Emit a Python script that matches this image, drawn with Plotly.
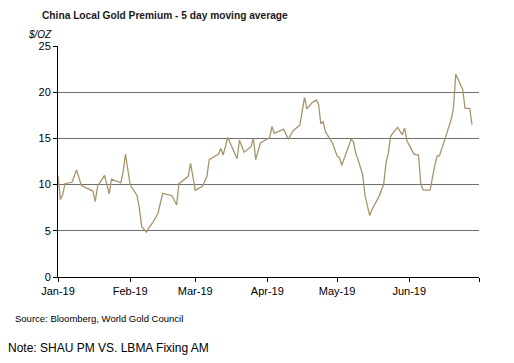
import plotly.graph_objects as go

dates = ["2019-01-01","2019-01-02","2019-01-03","2019-01-04","2019-01-07","2019-01-09","2019-01-11",
"2019-01-16","2019-01-17","2019-01-18","2019-01-21","2019-01-23","2019-01-24","2019-01-28","2019-01-29",
"2019-01-30","2019-02-01","2019-02-04","2019-02-05","2019-02-06","2019-02-08","2019-02-09","2019-02-11",
"2019-02-13","2019-02-15","2019-02-19","2019-02-21","2019-02-22","2019-02-26","2019-02-27","2019-03-01",
"2019-03-04","2019-03-06","2019-03-07","2019-03-11","2019-03-12","2019-03-13","2019-03-15","2019-03-19",
"2019-03-20","2019-03-22","2019-03-25","2019-03-26","2019-03-27","2019-03-29","2019-04-02","2019-04-03",
"2019-04-04","2019-04-08","2019-04-10","2019-04-12","2019-04-15","2019-04-17","2019-04-18","2019-04-20",
"2019-04-22","2019-04-23","2019-04-24","2019-04-25","2019-04-26","2019-04-29","2019-05-01","2019-05-02",
"2019-05-03","2019-05-07","2019-05-08","2019-05-09","2019-05-10","2019-05-12","2019-05-13","2019-05-15",
"2019-05-16","2019-05-19","2019-05-21","2019-05-22","2019-05-23","2019-05-24","2019-05-27","2019-05-29",
"2019-05-30","2019-05-31","2019-06-03","2019-06-05","2019-06-06","2019-06-07","2019-06-10","2019-06-12",
"2019-06-13","2019-06-14","2019-06-17","2019-06-19","2019-06-20","2019-06-21","2019-06-24","2019-06-25",
"2019-06-27","2019-06-28"]
premium = [10.9,8.4,8.9,10.1,10.25,11.6,9.9,
9.3,8.15,9.8,11.0,9.0,10.6,10.2,11.4,
13.3,10.0,8.8,7.4,5.45,4.85,5.3,6.0,
6.9,9.05,8.8,7.8,10.1,10.9,12.3,9.4,
9.8,10.85,12.7,13.3,13.9,13.2,15.1,12.8,
14.8,13.5,14.1,15.0,12.7,14.5,15.1,16.3,
15.55,16.0,14.9,15.8,16.45,19.45,18.2,18.8,
19.15,18.7,16.6,16.8,15.7,14.5,13.1,12.95,
12.1,14.9,14.65,13.4,12.7,11.05,8.8,6.65,
7.3,8.7,10.0,12.3,13.4,15.25,16.2,15.4,
16.1,14.75,13.3,13.2,10.05,9.4,9.4,12.1,
13.1,13.1,15.4,17.0,18.25,21.95,20.3,18.25,
18.25,16.5]

tick_dates = ["2019-01-01","2019-02-01","2019-03-01","2019-04-01","2019-05-01","2019-06-01","2019-07-01"]
tick_labels = ["Jan-19","Feb-19","Mar-19","Apr-19","May-19","Jun-19",""]
y_ticks = [0, 5, 10, 15, 20, 25]

# page body has an 8px margin; size the figure so the plot lands where the reference has it
OFF = 8
W, H = 514 - OFF, 363 - OFF
L, R, T, B = 50, 35, 38, 86
PW, PH = W - L - R, H - T - B

def px(xp, yp):
    return (xp - OFF - L) / PW, (H - B - (yp - OFF)) / PH

fig = go.Figure()
fig.add_trace(go.Scatter(x=dates, y=premium, mode="lines",
                         line=dict(color="#A8946C", width=1.3), showlegend=False))

font = "Liberation Sans, Arial, sans-serif"

def ann(text, xp, yp, size, color="black"):
    x, y = px(xp, yp)
    return dict(text=text, x=x, y=y, xref="paper", yref="paper", showarrow=False,
                xanchor="left", yanchor="middle", font=dict(size=size, family=font, color=color))

fig.update_layout(
    width=W, height=H,
    margin=dict(l=L, r=R, t=T, b=B),
    paper_bgcolor="white", plot_bgcolor="white",
    font=dict(family=font, size=11, color="black"),
    xaxis=dict(range=["2019-01-01","2019-07-01"], tickmode="array", tickvals=tick_dates,
               ticktext=tick_labels, showgrid=False, showline=True, linecolor="black",
               linewidth=1, ticks="outside", ticklen=4, tickcolor="black", zeroline=False,
               tickfont=dict(size=11, family=font, color="black")),
    yaxis=dict(range=[0, 25], tickmode="array", tickvals=y_ticks, showgrid=True,
               gridcolor="#6E6E6E", gridwidth=1, showline=True, linecolor="black",
               linewidth=1, ticks="outside", ticklen=4, tickcolor="black", zeroline=False,
               tickfont=dict(size=11, family=font, color="black")),
    annotations=[
        ann("<b>China Local Gold Premium - 5 day moving average</b>", 40, 15, 10.2, "#1a1a1a"),
        ann("<i>$/OZ</i>", 26, 35, 10),
        ann("Source: Bloomberg, World Gold Council", 13, 318, 9.5),
        ann("Note: SHAU PM VS. LBMA Fixing AM", 6, 348, 12),
    ],
)

fig.write_html("out.html")
